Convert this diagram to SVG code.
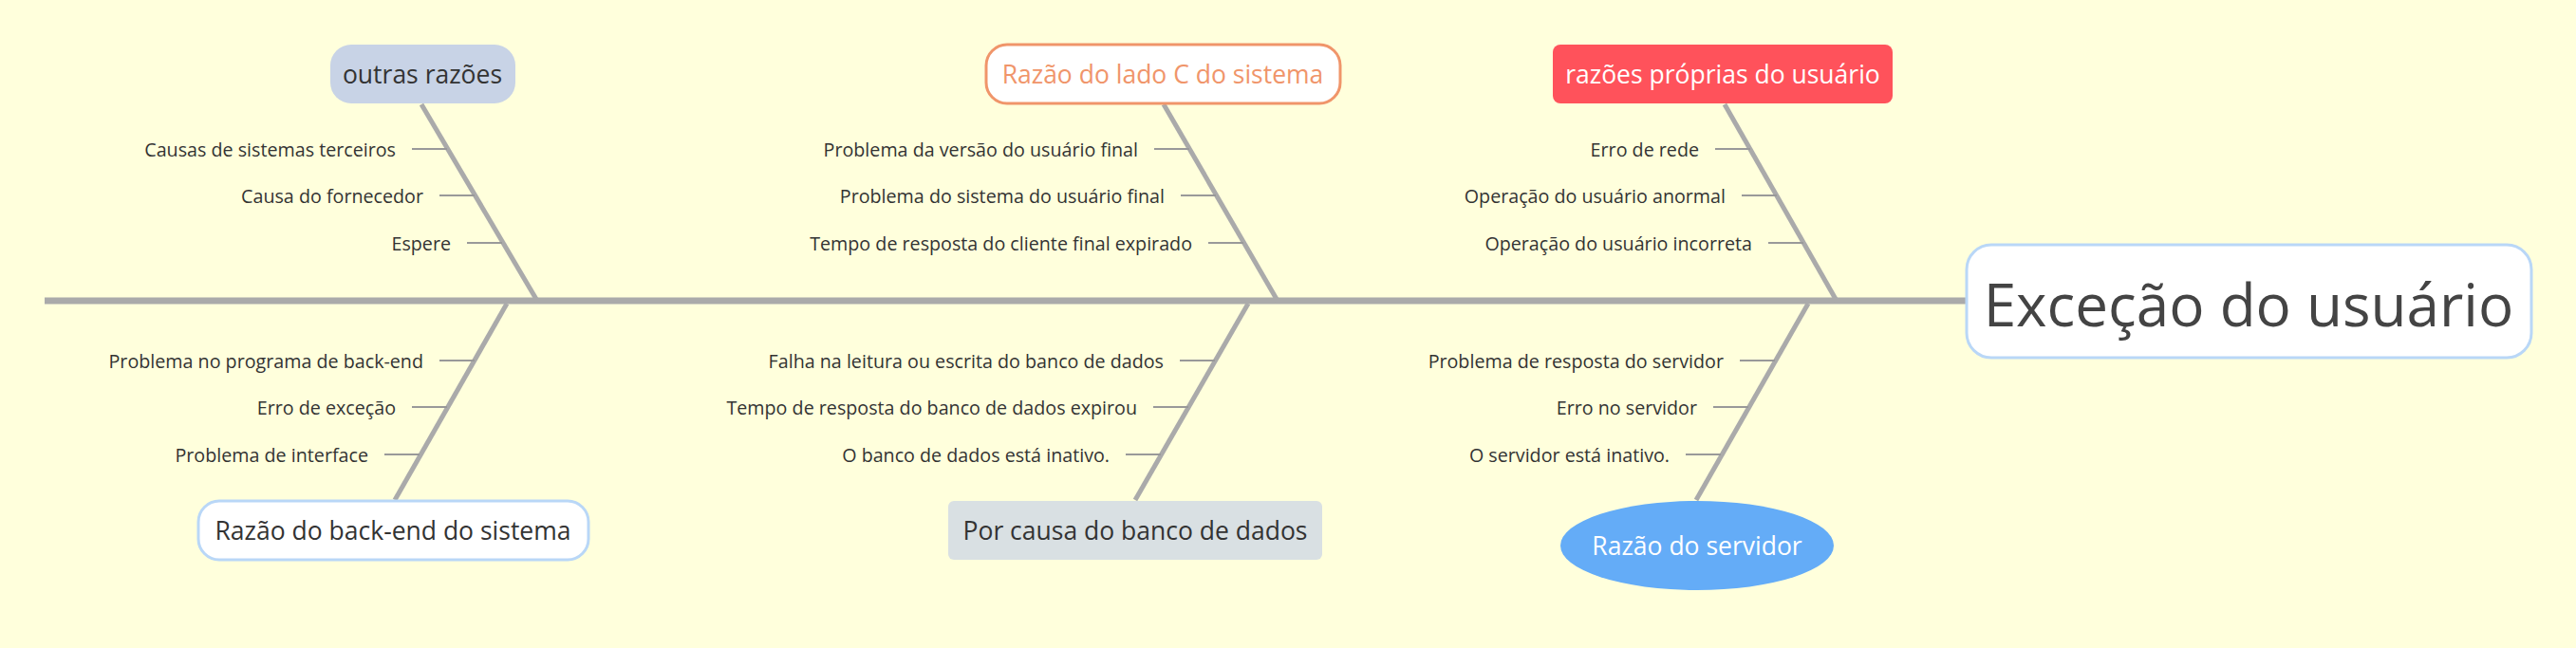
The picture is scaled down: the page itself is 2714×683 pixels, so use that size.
<svg xmlns="http://www.w3.org/2000/svg" width="2714" height="683" viewBox="0 0 2714 683">
<style>
.t{font-family:"Open Sans","Liberation Sans",sans-serif;font-size:19.7px;fill:#333;text-anchor:end;dominant-baseline:central}
.n{font-family:"Open Sans","Liberation Sans",sans-serif;font-size:26.5px;text-anchor:middle;dominant-baseline:central}
.bone{stroke:#aaa;stroke-width:5;fill:none}
.twig{stroke:#999;stroke-width:2;fill:none}
</style>
<rect width="2714" height="683" fill="#ffffdc"/>
<g id="connectors">
<line class="bone" x1="47" y1="317" x2="2072" y2="317" style="stroke-width:7"/>
<line class="bone" x1="444" y1="110" x2="566" y2="317"/>
<line class="bone" x1="1226" y1="110" x2="1346" y2="317"/>
<line class="bone" x1="1817" y1="110" x2="1935" y2="317"/>
<line class="bone" x1="534" y1="320" x2="416" y2="527"/>
<line class="bone" x1="1315" y1="320" x2="1196" y2="527"/>
<line class="bone" x1="1905" y1="320" x2="1787" y2="527"/>
<path class="twig" d="M434 157H471M463 206H500M492 256H529M1216 157H1253M1244 206H1281M1273 256H1310M1807 157H1844M1835 206H1872M1863 256H1900M463 380H500M434 429H471M405 479H442M1243 380H1280M1215 429H1252M1186 479H1223M1833 380H1870M1805 429H1842M1776 479H1813"/>
</g>
<g id="center"><rect x="2072" y="258" width="595" height="119" rx="26" fill="#fff" stroke="#b9d7f7" stroke-width="3"/><text class="n" x="2369" y="320" style="font-size:62px" fill="#444">Exceção do usuário</text></g>
<g id="outras"><rect x="348" y="47" width="195" height="62" rx="22" fill="#c8d3e6"/><text class="n" x="445" y="78" fill="#333">outras razões</text></g>
<g id="ladoC"><rect x="1039" y="47" width="373" height="62" rx="22" fill="#fff" stroke="#f0956a" stroke-width="3"/><text class="n" x="1225" y="78" fill="#f0956a">Razão do lado C do sistema</text></g>
<g id="proprias"><rect x="1636" y="47" width="358" height="62" rx="8" fill="#ff525b"/><text class="n" x="1815" y="78" fill="#fff">razões próprias do usuário</text></g>
<g id="backend"><rect x="209" y="528" width="411" height="62" rx="22" fill="#fff" stroke="#b9d7f7" stroke-width="3"/><text class="n" x="414" y="559" fill="#333">Razão do back-end do sistema</text></g>
<g id="banco"><rect x="999" y="528" width="394" height="62" rx="6" fill="#d9e0e3"/><text class="n" x="1196" y="559" fill="#333">Por causa do banco de dados</text></g>
<g id="servidor"><ellipse cx="1788" cy="575" rx="144" ry="47" fill="#64acf7"/><text class="n" x="1788" y="575" fill="#fff">Razão do servidor</text></g>
<g id="labels">
<text class="t" x="417" y="157">Causas de sistemas terceiros</text>
<text class="t" x="446" y="206">Causa do fornecedor</text>
<text class="t" x="475" y="256">Espere</text>
<text class="t" x="1199" y="157">Problema da versão do usuário final</text>
<text class="t" x="1227" y="206">Problema do sistema do usuário final</text>
<text class="t" x="1256" y="256">Tempo de resposta do cliente final expirado</text>
<text class="t" x="1790" y="157">Erro de rede</text>
<text class="t" x="1818" y="206">Operação do usuário anormal</text>
<text class="t" x="1846" y="256">Operação do usuário incorreta</text>
<text class="t" x="446" y="380">Problema no programa de back-end</text>
<text class="t" x="417" y="429">Erro de exceção</text>
<text class="t" x="388" y="479">Problema de interface</text>
<text class="t" x="1226" y="380">Falha na leitura ou escrita do banco de dados</text>
<text class="t" x="1198" y="429">Tempo de resposta do banco de dados expirou</text>
<text class="t" x="1169" y="479">O banco de dados está inativo.</text>
<text class="t" x="1816" y="380">Problema de resposta do servidor</text>
<text class="t" x="1788" y="429">Erro no servidor</text>
<text class="t" x="1759" y="479">O servidor está inativo.</text>
</g>
</svg>
